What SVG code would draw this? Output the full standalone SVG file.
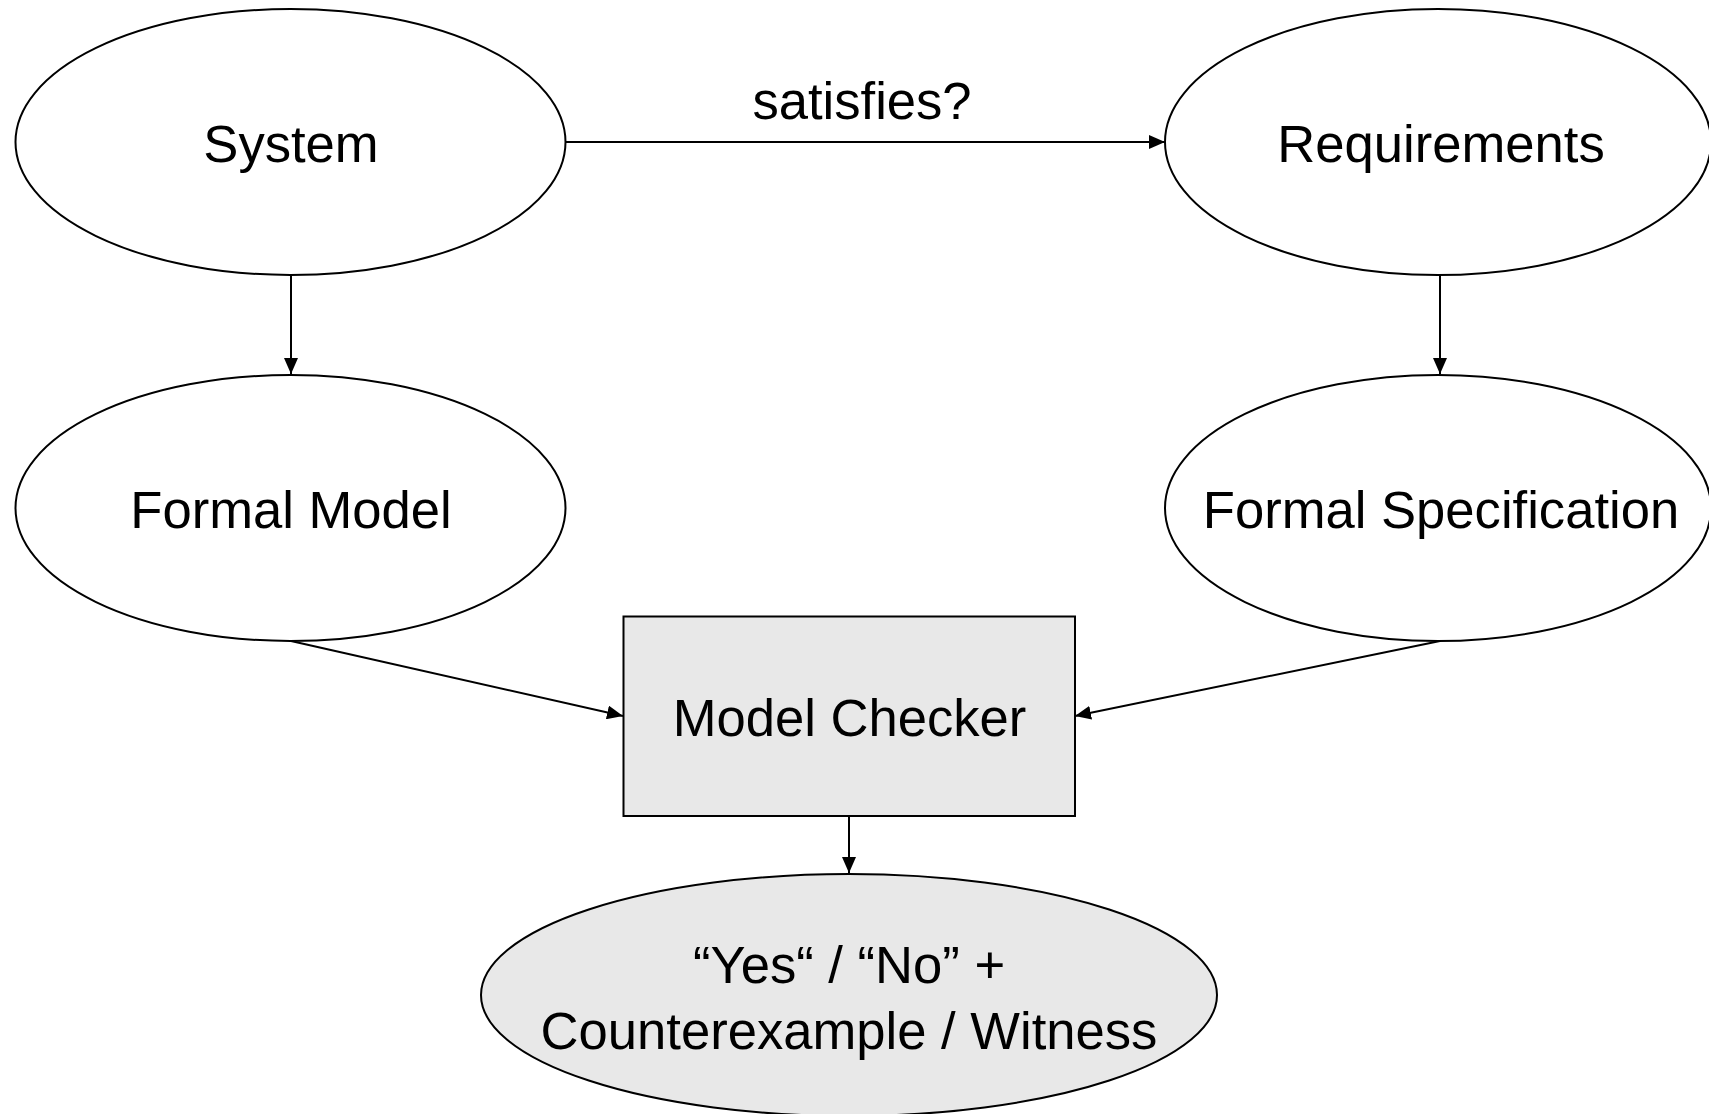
<svg xmlns="http://www.w3.org/2000/svg" width="1709" height="1114" viewBox="0 0 1709 1114">
  <style>
    .shape { fill: #ffffff; stroke: #000000; stroke-width: 2; }
    .shaded { fill: #e8e8e8; stroke: #000000; stroke-width: 2; }
    .label { font-family: "Liberation Sans", Arial, sans-serif; font-size: 52.6px; fill: #000000; text-anchor: middle; }
    .edge { fill: none; stroke: #000000; stroke-width: 2; marker-end: url(#arrow); }
  </style>
  <defs>
    <marker id="arrow" viewBox="0 0 16 14" refX="16" refY="7" markerWidth="16" markerHeight="14" markerUnits="userSpaceOnUse" orient="auto">
      <path d="M0,0 L16,7 L0,14 Z" fill="#000000"/>
    </marker>
  </defs>
  <rect x="0" y="0" width="1709" height="1114" fill="#ffffff"/>

  <g id="connectors">
    <line class="edge" x1="566" y1="142" x2="1165" y2="142"/>
    <line class="edge" x1="291" y1="275" x2="291" y2="374"/>
    <line class="edge" x1="1440" y1="275" x2="1440" y2="374"/>
    <line class="edge" x1="291" y1="641" x2="623" y2="716"/>
    <line class="edge" x1="1440" y1="641" x2="1075" y2="716"/>
    <line class="edge" x1="849" y1="816" x2="849" y2="873"/>
    <text class="label" x="862" y="119">satisfies?</text>
  </g>

  <g id="system">
    <ellipse class="shape" cx="290.5" cy="142" rx="275" ry="133"/>
    <text class="label" x="291" y="162">System</text>
  </g>

  <g id="requirements">
    <ellipse class="shape" cx="1438" cy="142" rx="273" ry="133"/>
    <text class="label" x="1441" y="162">Requirements</text>
  </g>

  <g id="formal-model">
    <ellipse class="shape" cx="290.5" cy="508" rx="275" ry="133"/>
    <text class="label" x="291" y="528">Formal Model</text>
  </g>

  <g id="formal-specification">
    <ellipse class="shape" cx="1438" cy="508" rx="273" ry="133"/>
    <text class="label" x="1441" y="528">Formal Specification</text>
  </g>

  <g id="model-checker">
    <rect class="shaded" x="623.5" y="616.5" width="451.5" height="199.5"/>
    <text class="label" x="849.5" y="736">Model Checker</text>
  </g>

  <g id="result">
    <ellipse class="shaded" cx="849" cy="995" rx="368" ry="121"/>
    <text class="label" x="849" y="983">“Yes“ / “No” +</text>
    <text class="label" x="849" y="1049">Counterexample / Witness</text>
  </g>
</svg>
